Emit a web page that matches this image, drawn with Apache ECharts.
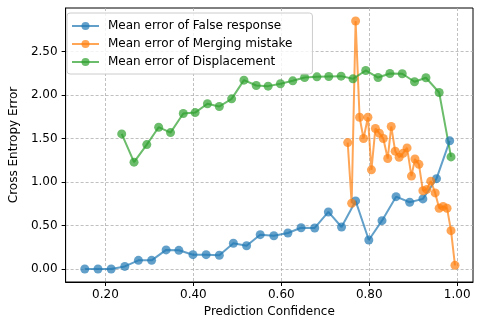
<!DOCTYPE html>
<html>
<head>
<meta charset="utf-8">
<script src="https://cdn.jsdelivr.net/npm/echarts@6/dist/echarts.min.js"></script>
<style>
  html, body { margin: 0; padding: 0; background: #fff; }
  #chart { width: 482px; height: 328px; }
</style>
</head>
<body>
<div id="chart"></div>
<script>
// values
const falseRespX = [0.153, 0.183, 0.213, 0.244, 0.275, 0.305, 0.338, 0.367, 0.399, 0.429, 0.459, 0.491, 0.521, 0.552,
  0.583, 0.615, 0.645, 0.676, 0.707, 0.737, 0.769, 0.799, 0.829, 0.861, 0.892, 0.922, 0.953, 0.983]
const falseRespY = [0, 0, 0, 0.03, 0.10, 0.10, 0.22, 0.215, 0.165, 0.165, 0.158, 0.296, 0.268, 0.395,
  0.383, 0.414, 0.475, 0.472, 0.656, 0.483, 0.783, 0.334, 0.556, 0.832, 0.768, 0.806, 1.039, 1.473]

const mergingX = [0.751, 0.760, 0.769, 0.778, 0.787, 0.797, 0.805, 0.814, 0.823, 0.832, 0.842, 0.850, 0.859, 0.868,
  0.877, 0.886, 0.896, 0.904, 0.913, 0.922, 0.931, 0.940, 0.950, 0.959, 0.968, 0.977, 0.986, 0.995]
const mergingY = [1.453, 0.756, 2.85, 1.744, 1.50, 1.744, 1.14, 1.615, 1.56, 1.50, 1.27, 1.638, 1.355, 1.285,
  1.331, 1.392, 1.068, 1.264, 1.203, 0.90, 0.915, 1.01, 0.875, 0.698, 0.72, 0.698, 0.441, 0.043]

const displaceX = [0.237, 0.265, 0.294, 0.321, 0.348, 0.377, 0.404, 0.432, 0.459, 0.487, 0.515, 0.543, 0.570, 0.598,
  0.626, 0.653, 0.681, 0.708, 0.736, 0.763, 0.792, 0.820, 0.847, 0.875, 0.903, 0.929, 0.959, 0.986]
const displaceY = [1.553, 1.228, 1.43, 1.63, 1.568, 1.787, 1.798, 1.899, 1.868, 1.956, 2.171, 2.109, 2.102, 2.129,
  2.163, 2.201, 2.209, 2.213, 2.217, 2.186, 2.282, 2.201, 2.247, 2.244, 2.152, 2.198, 2.029, 1.289]

const xTicks = [0.2, 0.4, 0.6, 0.8, 1.0]
const yTicks = [0, 0.5, 1.0, 1.5, 2.0, 2.5]

const seriesNames = ['Mean error of False response', 'Mean error of Merging mistake', 'Mean error of Displacement']
const seriesColors = ['#1f77b4', '#ff7f0e', '#2ca02c']

const zip = (xs, ys) => xs.map((x, i) => [x, ys[i]])
const seriesData = [zip(falseRespX, falseRespY), zip(mergingX, mergingY), zip(displaceX, displaceY)]

const font = 'DejaVu Sans'
const chart = echarts.init(document.getElementById('chart'))

const axisCommon = {
  type: 'value',
  axisLine: { show: true, onZero: false, lineStyle: { color: '#000', width: 1 } },
  axisTick: { show: true, length: 4, lineStyle: { color: '#000', width: 1 } },
  splitLine: { show: true, lineStyle: { color: '#b0b0b0', width: 0.8, type: [3, 2] } },
  nameLocation: 'middle',
  nameTextStyle: { color: '#000', fontFamily: font, fontSize: 12 }
}

const option = {
  animation: false,
  backgroundColor: '#fff',
  color: seriesColors,
  grid: {
    left: 61, right: 9, top: 8, bottom: 46,
    show: true, borderColor: '#000', borderWidth: 1, backgroundColor: 'transparent'
  },
  legend: {
    orient: 'vertical',
    left: 67, top: 13,
    padding: [7, 20, 6, 4],
    itemWidth: 27, itemHeight: 10, itemGap: 6,
    backgroundColor: 'rgba(255,255,255,0.8)',
    borderColor: '#cccccc', borderWidth: 1, borderRadius: 3,
    textStyle: { color: '#000', fontFamily: font, fontSize: 12, padding: [0, 0, 0, 4] },
    data: seriesNames
  },
  xAxis: Object.assign({}, axisCommon, {
    min: 0.1094, max: 1.036,
    name: 'Prediction Confidence', nameGap: 24,
    axisTick: Object.assign({}, axisCommon.axisTick, { customValues: xTicks }),
    axisLabel: {
      customValues: xTicks, margin: 7, color: '#000', fontFamily: font, fontSize: 12,
      formatter: v => v.toFixed(2)
    }
  }),
  yAxis: Object.assign({}, axisCommon, {
    min: -0.149, max: 3.0,
    name: 'Cross Entropy Error', nameGap: 41,
    axisTick: Object.assign({}, axisCommon.axisTick, { customValues: yTicks }),
    axisLabel: {
      customValues: yTicks, margin: 8, color: '#000', fontFamily: font, fontSize: 12,
      formatter: v => v.toFixed(2)
    }
  }),
  series: seriesNames.map((name, i) => ({
    name: name,
    type: 'line',
    data: seriesData[i],
    symbol: 'circle',
    symbolSize: 9,
    showSymbol: true,
    lineStyle: { width: 2, opacity: 0.7, color: seriesColors[i] },
    itemStyle: { opacity: 0.7, color: seriesColors[i] }
  }))
}

chart.setOption(option)
</script>
</body>
</html>
